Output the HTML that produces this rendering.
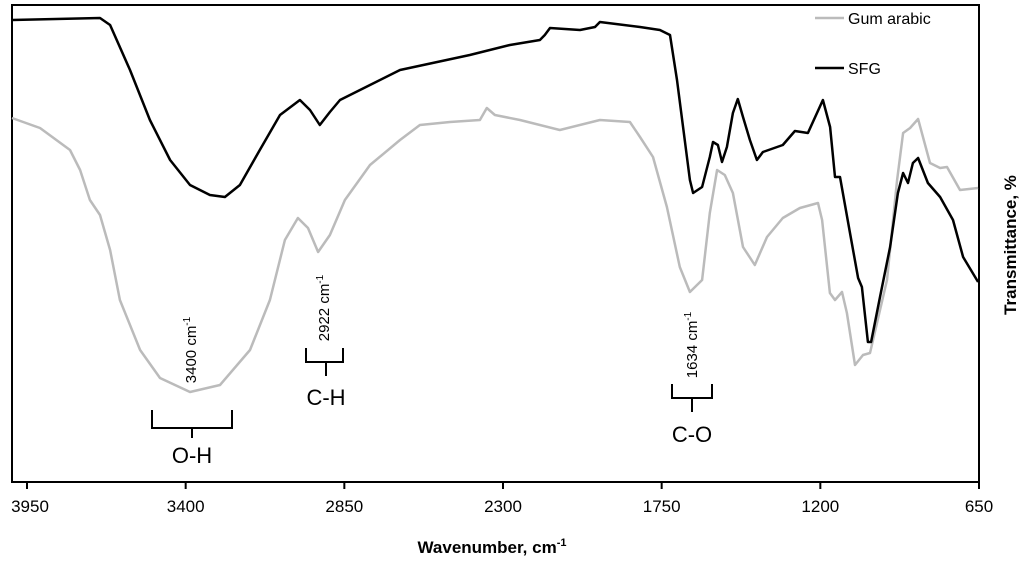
<!DOCTYPE html>
<html><head><meta charset="utf-8"><style>
body{margin:0;background:#fff;width:1024px;height:561px;overflow:hidden;font-family:"Liberation Sans",Arial,sans-serif}
</style></head><body>
<svg id="chart" width="1024" height="561" viewBox="0 0 1024 561">
<rect x="12" y="5" width="967" height="477" fill="none" stroke="#000" stroke-width="2"/>
<g id="xticks"></g>
<text x="492" y="553" text-anchor="middle" font-weight="bold" font-size="17">Wavenumber, cm<tspan font-size="11" dy="-7">-1</tspan></text>
<text transform="translate(1016,245) rotate(-90)" text-anchor="middle" font-weight="bold" font-size="17">Transmittance, %</text>
<g>
<line x1="815" y1="18" x2="844" y2="18" stroke="#bbb" stroke-width="2.5"/>
<text x="848" y="24" font-size="16">Gum arabic</text>
<line x1="815" y1="68" x2="844" y2="68" stroke="#000" stroke-width="2.5"/>
<text x="848" y="74" font-size="16">SFG</text>
</g>
<g id="series"></g>
<g font-size="15">
<text transform="translate(196,350) rotate(-90)" text-anchor="middle">3400 cm<tspan font-size="10" dy="-6">-1</tspan></text>
<text transform="translate(329,308) rotate(-90)" text-anchor="middle">2922 cm<tspan font-size="10" dy="-6">-1</tspan></text>
<text transform="translate(697,345) rotate(-90)" text-anchor="middle">1634 cm<tspan font-size="10" dy="-6">-1</tspan></text>
<path d="M152,410 V428 H192 V438 M192,428 H232 V410" fill="none" stroke="#000" stroke-width="2"/>
<path d="M306,348 V362 H326 V376 M326,362 H343 V348" fill="none" stroke="#000" stroke-width="2"/>
<path d="M672,384 V398 H692 V412 M692,398 H712 V384" fill="none" stroke="#000" stroke-width="2"/>
<text x="192" y="463" text-anchor="middle" font-size="22">O-H</text>
<text x="326" y="405" text-anchor="middle" font-size="22">C-H</text>
<text x="692" y="442" text-anchor="middle" font-size="22">C-O</text>
</g>
</svg>
<script>
const tickLabels=[3950,3400,2850,2300,1750,1200,650];
const gumWn=[4002,3905,3801,3766,3732,3697,3662,3628,3558,3489,3385,3281,3177,3108,3056,3011,2976,2941,2900,2848,2761,2657,2588,2484,2380,2356,2328,2241,2103,1964,1860,1825,1780,1732,1687,1652,1610,1583,1558,1531,1503,1468,1427,1385,1330,1271,1208,1194,1167,1149,1125,1108,1080,1052,1028,969,934,913,889,861,820,785,761,716,653];
const gumT=[364,354,332,312,282,267,232,182,132,104,90,97,132,182,242,264,254,230,247,282,317,342,357,360,362,374,367,362,352,362,360,345,325,275,215,190,202,269,312,307,289,235,217,245,264,274,279,262,189,182,190,169,117,127,129,202,302,349,354,363,319,314,315,292,294];
const sfgWn=[4002,3697,3662,3593,3524,3454,3385,3316,3264,3212,3143,3073,3004,2969,2935,2900,2865,2761,2657,2415,2276,2172,2155,2137,2033,1981,1964,1825,1756,1721,1697,1652,1641,1610,1583,1572,1555,1541,1524,1503,1486,1468,1444,1420,1399,1330,1288,1243,1191,1166,1149,1132,1097,1069,1056,1035,1024,993,958,931,913,896,879,861,827,785,740,705,653];
const sfgT=[462,464,457,412,362,322,297,287,285,297,332,367,382,372,357,370,382,397,412,427,437,442,447,454,452,455,460,455,452,447,402,302,289,295,325,340,337,320,335,369,383,365,342,322,330,337,351,349,382,355,305,305,249,204,195,140,140,185,235,289,309,299,319,324,299,285,262,225,200];
const svg=document.getElementById('chart');
const NS='http://www.w3.org/2000/svg';
const xS=w=>27+(3950-w)*(952/3300);
const yS=t=>482-t;
const tg=document.getElementById('xticks');
tickLabels.forEach(v=>{
 const l=document.createElementNS(NS,'line');
 
 
 l.setAttribute('x1',xS(v));l.setAttribute('x2',xS(v));l.setAttribute('y1',482);l.setAttribute('y2',489);
 l.setAttribute('stroke','#000');l.setAttribute('stroke-width','2');tg.appendChild(l);
 const t=document.createElementNS(NS,'text');
 
 
 t.setAttribute('x',Math.max(xS(v),30));t.setAttribute('y',512);t.setAttribute('text-anchor','middle');t.setAttribute('font-size','17');
 t.textContent=v;tg.appendChild(t);
});
const sg=document.getElementById('series');
function draw(wn,tv,color,name){
 const p=document.createElementNS(NS,'path');
 
 
 p.setAttribute('d',wn.map((w,i)=>(i?'L':'M')+xS(w).toFixed(1)+','+yS(tv[i]).toFixed(1)).join(''));
 p.setAttribute('fill','none');p.setAttribute('stroke',color);p.setAttribute('stroke-width','2.5');p.setAttribute('stroke-linejoin','round');
 sg.appendChild(p);
}
draw(gumWn,gumT,'#bbb','gum-arabic-line');
draw(sfgWn,sfgT,'#000','sfg-line');
</script>
</body></html>
